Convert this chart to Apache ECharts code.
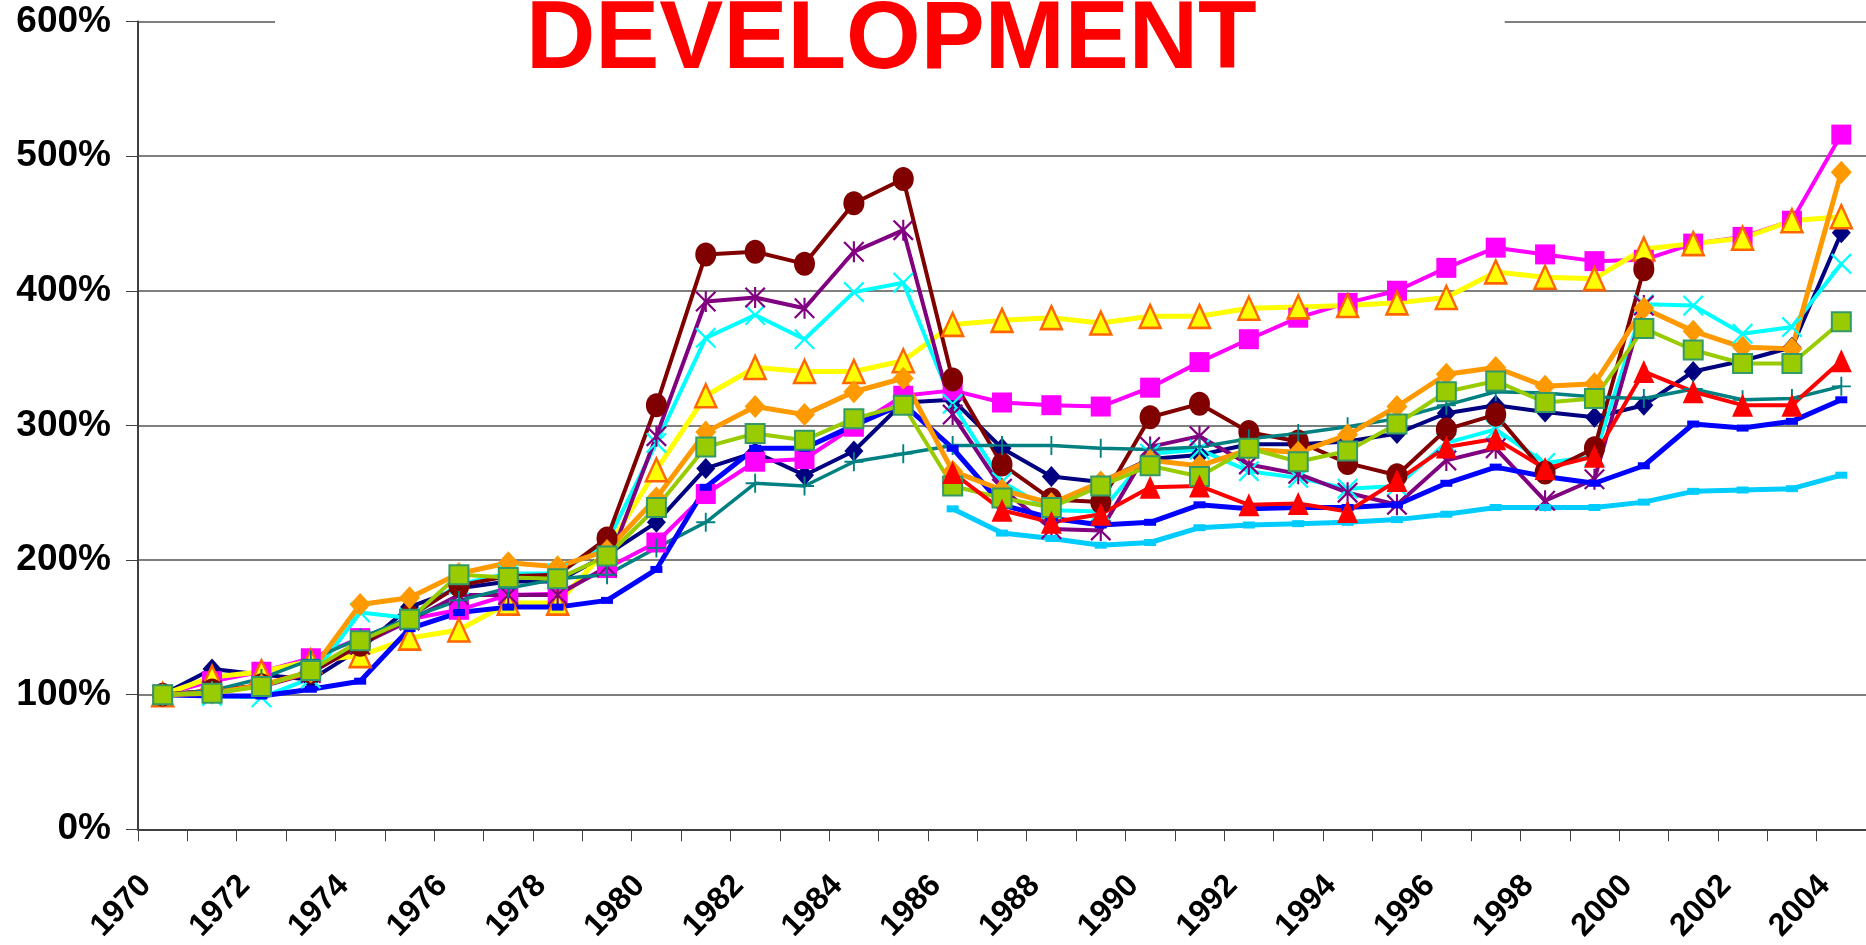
<!DOCTYPE html>
<html>
<head>
<meta charset="utf-8">
<title>Development</title>
<script src="https://cdn.jsdelivr.net/npm/echarts@6/dist/echarts.min.js"></script>
<style>
  html, body { margin: 0; padding: 0; background: #fff; }
  #chart { width: 1866px; height: 945px; }
</style>
</head>
<body>
<div id="chart"></div>
<script>
// categories
const years = ['1970', '1971', '1972', '1973', '1974', '1975', '1976', '1977', '1978', '1979',
  '1980', '1981', '1982', '1983', '1984', '1985', '1986', '1987', '1988', '1989',
  '1990', '1991', '1992', '1993', '1994', '1995', '1996', '1997', '1998', '1999',
  '2000', '2001', '2002', '2003', '2004'];

// series values, percent of 1970
const navy = [100, 119, 115, 111, 134, 165, 179, 184, 184, 204, 228, 268, 280, 263, 281, 317, 319, 283, 262, 258,
  275, 278, 286, 286, 288, 294, 309, 315, 310, 306, 315, 340, 348, 358, 443];
const magenta = [100, 110, 117, 127, 142, 156, 163, 174, 175, 194, 213, 249, 273, 275, 299, 322, 326, 317, 315, 314,
  328, 347, 364, 380, 391, 400, 417, 432, 427, 422, 423, 435, 440, 452, 516];
const yellow = [100, 113, 117, 125, 129, 142, 148, 168, 168, 208, 267, 322, 343, 340, 340, 348, 375, 378, 380, 376,
  381, 381, 387, 388, 389, 391, 395, 414, 410, 409, 431, 435, 439, 452, 455];
const cyan = [100, 99, 98, 112, 161, 157, 182, 190, 190, 213, 287, 365, 382, 364, 399, 406, 316, 258, 237, 236,
  279, 282, 266, 261, 253, 255, 287, 297, 272, 277, 390, 389, 368, 373, 420];
const purple = [100, 103, 106, 116, 137, 155, 174, 174, 174, 195, 292, 392, 395, 387, 429, 445, 308, 253, 223, 222,
  284, 292, 271, 264, 250, 241, 274, 283, 244, 260, 389, '-', '-', '-', '-'];
const maroon = [100, 103, 107, 117, 137, 158, 181, 188, 189, 216, 315, 427, 429, 420, 465, 483, 334, 271, 245, 243,
  306, 316, 295, 288, 272, 263, 297, 308, 265, 283, 416, '-', '-', '-', '-'];
const teal = [100, 103, 112, 126, 142, 157, 170, 179, 186, 189, 209, 228, 257, 255, 273, 279, 285, 285, 285, 283,
  282, 284, 290, 294, 299, 305, 315, 325, 324, 321, 320, 327, 319, 320, 329];
const blue = [100, 99, 99, 104, 110, 149, 161, 165, 165, 170, 193, 254, 283, 283, 300, 316, 283, 241, 231, 226,
  228, 241, 238, 239, 239, 241, 257, 269, 262, 257, 270, 301, 298, 303, 319];
const lightBlue = ['-', '-', '-', '-', '-', '-', '-', '-', '-', '-', '-', '-', '-', '-', '-', '-',
  238, 220, 216, 211, 213, 224, 226, 227, 228, 230, 234, 239, 239, 239, 243, 251, 252, 253, 263];
const orange = [100, 101, 107, 117, 167, 172, 190, 198, 195, 207, 246, 295, 314, 308, 325, 335, 266, 252, 242, 258,
  274, 270, 282, 280, 293, 314, 338, 343, 329, 331, 387, 370, 358, 357, 488];
const green = [100, 101, 106, 118, 140, 156, 189, 187, 186, 203, 239, 284, 294, 289, 305, 315, 255, 246, 239, 255,
  270, 262, 283, 273, 281, 301, 325, 333, 317, 320, 372, 356, 346, 346, 377];
const red = ['-', '-', '-', '-', '-', '-', '-', '-', '-', '-', '-', '-', '-', '-', '-', '-',
  265, 237, 228, 234, 254, 255, 241, 242, 236, 259, 284, 290, 268, 277, 340, 325, 315, 315, 348];

// y tick labels
const yTicks = [0, 100, 200, 300, 400, 500, 600];

// marker shapes that echarts lacks
const xMark = 'path://M0,1.5L1.5,0L10,8.5L18.5,0L20,1.5L11.5,10L20,18.5L18.5,20L10,11.5L1.5,20L0,18.5L8.5,10Z';
const starMark = xMark + 'M9,0L11,0L11,20L9,20Z';
const plusMark = 'path://M9,0L11,0L11,9L20,9L20,11L11,11L11,20L9,20L9,11L0,11L0,9L9,9Z';

const font = 'Liberation Sans, Arial, sans-serif';

function line(name, data, color, symbol, size, width, itemExtra) {
  return {
    name: name,
    type: 'line',
    data: data,
    symbol: symbol,
    symbolSize: size,
    showAllSymbol: true,
    lineStyle: { color: color, width: width },
    itemStyle: Object.assign({ color: color, borderWidth: 0 }, itemExtra || {}),
    emphasis: { disabled: true }
  };
}

const chart = echarts.init(document.getElementById('chart'));

const option = {
  animation: false,
  backgroundColor: '#fff',
  textStyle: { fontFamily: font },
  title: {
    text: 'DEVELOPMENT',
    left: 275,
    top: -6,
    padding: [0, 248, 0, 251],
    backgroundColor: '#fff',
    textStyle: { color: '#ff0000', fontSize: 96, fontWeight: 'bold', fontFamily: font }
  },
  grid: { left: 138, top: 21.5, width: 1731, height: 808 },
  xAxis: {
    type: 'category',
    data: years,
    boundaryGap: true,
    axisLine: { lineStyle: { color: '#404040', width: 2 } },
    axisTick: { show: true, interval: 0, length: 12, lineStyle: { color: '#404040', width: 1 } },
    axisLabel: {
      interval: 1, rotate: 46, margin: 34, padding: [0, 24, 0, 0],
      color: '#000', fontSize: 32, fontWeight: 'bold', fontFamily: font
    },
    splitLine: { show: false }
  },
  yAxis: {
    type: 'value',
    min: yTicks[0],
    max: yTicks[yTicks.length - 1],
    interval: 100,
    axisLine: { show: true, lineStyle: { color: '#404040', width: 2 } },
    axisTick: { show: true, length: 12, lineStyle: { color: '#404040', width: 1 } },
    axisLabel: {
      formatter: '{value}%', margin: 27,
      color: '#000', fontSize: 37, fontWeight: 'bold', fontFamily: font
    },
    splitLine: { lineStyle: { color: '#555', width: 1.5 } }
  },
  series: [
    line('navy', navy, '#000080', 'diamond', [19, 21], 4),
    line('magenta', magenta, '#ff00ff', 'rect', 20, 4),
    line('yellow', yellow, '#ffff00', 'triangle', [21, 23], 5, { borderColor: '#ff6600', borderWidth: 2.5 }),
    line('cyan', cyan, '#00ffff', xMark, 21, 4),
    line('purple', purple, '#800080', starMark, 21, 4),
    line('maroon', maroon, '#800000', 'circle', [21, 24], 4),
    line('teal', teal, '#008080', plusMark, 19, 3.5),
    line('blue', blue, '#0000ff', 'rect', [12, 7], 5),
    line('lightBlue', lightBlue, '#00ccff', 'rect', [12, 7], 5),
    line('orange', orange, '#ff9900', 'diamond', [21, 23], 5),
    line('green', green, '#99cc00', 'rect', 19, 4, { borderColor: '#339966', borderWidth: 2 }),
    line('red', red, '#ff0000', 'triangle', [21, 23], 4)
  ]
};

chart.setOption(option);
</script>
</body>
</html>
